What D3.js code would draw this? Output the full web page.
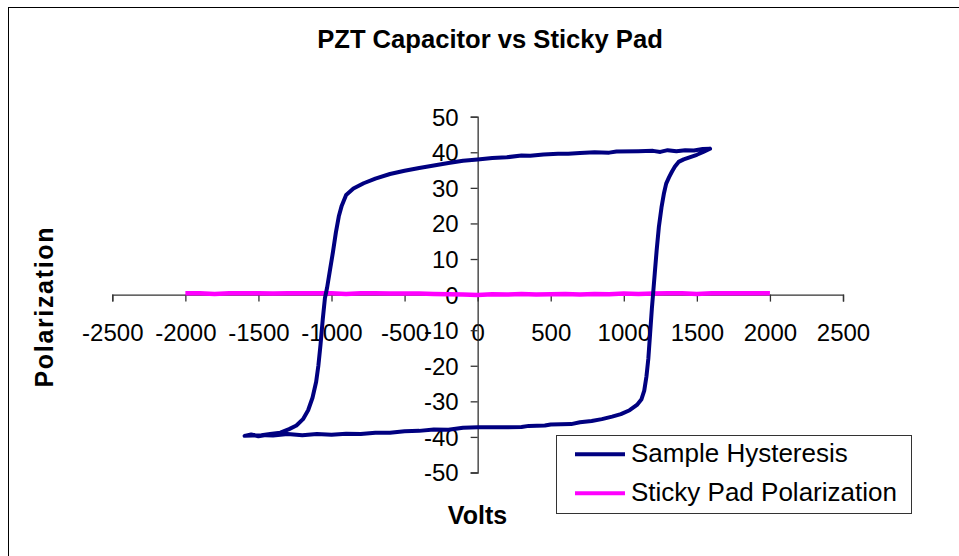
<!DOCTYPE html>
<html>
<head>
<meta charset="utf-8">
<script src="https://cdn.jsdelivr.net/npm/d3@7"></script>
<style>
  body { margin: 0; background: #fff; }
  text { font-family: "Liberation Sans", Arial, sans-serif; fill: #000; }
</style>
</head>
<body>
<div id="chart"></div>
<script>
// hysteresis loop: upper branch (right to left) then lower branch (left to right)
var loopVolts = [
  1590, 1540, 1480, 1420, 1360, 1300, 1250, 1200, 1100, 950, 900, 800, 700, 620, 550, 450, 360, 300, 200, 100,
  0, -100, -200, -300, -400, -500, -600, -700, -780, -850, -900, -930, -950, -970, -990, -1010, -1030, -1045,
  -1060, -1075, -1090, -1105, -1130, -1160, -1195, -1240, -1290, -1350, -1420, -1480, -1540, -1595,
  -1550, -1500, -1450, -1400, -1300, -1200, -1100, -1000, -900, -800, -700, -600, -500, -400, -300, -200, -100,
  0, 100, 200, 300, 350, 460, 500, 640, 700, 780, 850, 920, 980, 1040, 1090, 1120, 1140, 1155, 1168, 1180,
  1192, 1202, 1212, 1225, 1240, 1258, 1275, 1290, 1310, 1330, 1350, 1375, 1410, 1450, 1500, 1540, 1590
];
var loopPol = [
  41.0, 40.9, 40.5, 40.6, 40.3, 40.6, 40.1, 40.4, 40.3, 40.2, 39.9, 40.0, 39.8, 39.6, 39.6, 39.4, 39.0, 39.1, 38.6, 38.4,
  38.0, 37.6, 37.0, 36.3, 35.6, 34.8, 33.9, 32.6, 31.3, 29.8, 28.0, 25.0, 22.0, 17.5, 12.0, 7.0, 2.0, -1.0,
  -7.0, -14.0, -20.0, -24.5, -29.0, -32.5, -35.0, -36.8, -37.8, -38.8, -39.2, -39.5, -39.6, -39.7,
  -39.3, -39.8, -39.5, -39.6, -39.2, -39.5, -39.2, -39.4, -39.1, -39.2, -38.8, -38.8, -38.4, -38.3, -37.9, -38.0, -37.4,
  -37.3, -37.3, -37.3, -37.2, -36.9, -36.8, -36.5, -36.4, -35.9, -35.5, -35.0, -34.3, -33.6, -32.5, -31.0, -29.5, -27.0, -23.0, -18.0, -11.0,
  -4.0, 1.0, 6.0, 12.5, 19.0, 24.5, 28.5, 31.2, 33.0, 34.6, 36.0, 37.3, 38.0, 38.6, 39.3, 40.0, 41.0
];

// sticky pad sweep
var padVolts = [
  -2000, -1900, -1800, -1700, -1600, -1500, -1400, -1300, -1200, -1100, -1000, -900, -800, -700, -600, -500, -400, -300, -200, -100,
  0, 100, 200, 300, 400, 500, 600, 700, 800, 900, 1000, 1100, 1200, 1300, 1400, 1500, 1600, 1700, 1800, 1900, 2000
];
var padPol = [
  0.4, 0.4, 0.2, 0.4, 0.4, 0.4, 0.3, 0.4, 0.4, 0.4, 0.4, 0.2, 0.4, 0.4, 0.3, 0.3, 0.3, 0.2, 0.1, 0.0,
  -0.1, 0.1, 0.0, 0.2, 0.0, 0.1, 0.2, 0.0, 0.2, 0.1, 0.3, 0.2, 0.3, 0.4, 0.4, 0.2, 0.4, 0.4, 0.4, 0.4, 0.4
];

var xTicks = [-2500, -2000, -1500, -1000, -500, 0, 500, 1000, 1500, 2000, 2500];
var yTicks = [-50, -40, -30, -20, -10, 0, 10, 20, 30, 40, 50];

var seriesNames = ['Sample Hysteresis', 'Sticky Pad Polarization'];
var seriesColors = ['#000080', '#ff00ff'];

var width = 959, height = 556;

var svg = d3.select('#chart').append('svg')
  .attr('width', width)
  .attr('height', height);

// chart area border
svg.append('rect')
  .attr('x', 8.5).attr('y', 7.5)
  .attr('width', 1000).attr('height', 600)
  .attr('fill', '#fff')
  .attr('stroke', '#000')
  .attr('stroke-width', 1);

var x = d3.scaleLinear().domain([-2500, 2500]).range([112.3, 843]);
var y = d3.scaleLinear().domain([-50, 50]).range([472.5, 116.7]);

// x axis through y = 0
var xAxis = svg.append('g')
  .attr('transform', 'translate(0,' + y(0) + ')')
  .call(d3.axisBottom(x).tickValues(xTicks).tickSize(7).tickPadding(22).tickFormat(d3.format('d')));

// y axis through x = 0
var yAxis = svg.append('g')
  .attr('transform', 'translate(' + x(0) + ',0)')
  .call(d3.axisLeft(y).tickValues(yTicks).tickSize(7).tickPadding(12).tickFormat(d3.format('d')));

[xAxis, yAxis].forEach(function(ax) {
  ax.select('.domain').attr('stroke', '#333').attr('stroke-width', 1.3);
  ax.selectAll('.tick line').attr('stroke', '#333').attr('stroke-width', 1.3);
  ax.selectAll('.tick text')
    .style('font-family', '"Liberation Sans", Arial, sans-serif')
    .style('font-size', '24px')
    .attr('fill', '#000');
});
xAxis.selectAll('.tick text').attr('dy', null).attr('y', 46).style('dominant-baseline', 'auto');
yAxis.selectAll('.tick text').attr('dy', '0.35em');
// d3 uses a unicode minus; keep a plain hyphen like the original
svg.selectAll('.tick text').text(function(d) { return String(d); });

var line = d3.line()
  .x(function(d) { return x(d[0]); })
  .y(function(d) { return y(d[1]); });

var padData = padVolts.map(function(v, i) { return [v, padPol[i]]; });
var loopData = loopVolts.map(function(v, i) { return [v, loopPol[i]]; });

svg.append('path')
  .datum(padData)
  .attr('d', line)
  .attr('fill', 'none')
  .attr('stroke', seriesColors[1])
  .attr('stroke-width', 4.5)
  .attr('stroke-linejoin', 'round');

svg.append('path')
  .datum(loopData)
  .attr('d', line)
  .attr('fill', 'none')
  .attr('stroke', seriesColors[0])
  .attr('stroke-width', 4)
  .attr('stroke-linejoin', 'round')
  .attr('stroke-linecap', 'round');

// titles
svg.append('text')
  .attr('x', 490).attr('y', 48)
  .attr('text-anchor', 'middle')
  .style('font-size', '25.6px')
  .style('font-weight', 'bold')
  .text('PZT Capacitor vs Sticky Pad');

svg.append('text')
  .attr('x', 477.5).attr('y', 524)
  .attr('text-anchor', 'middle')
  .style('font-size', '25px')
  .style('font-weight', 'bold')
  .text('Volts');

svg.append('text')
  .attr('transform', 'translate(53,307.5) rotate(-90)')
  .attr('text-anchor', 'middle')
  .attr('textLength', 160)
  .attr('lengthAdjust', 'spacing')
  .style('font-size', '25px')
  .style('font-weight', 'bold')
  .text('Polarization');

// legend
var legend = svg.append('g');
legend.append('rect')
  .attr('x', 556.5).attr('y', 435.5)
  .attr('width', 355).attr('height', 78)
  .attr('fill', '#fff')
  .attr('stroke', '#333')
  .attr('stroke-width', 1);

seriesNames.forEach(function(name, i) {
  var ly = 454.3 + i * 39;
  legend.append('line')
    .attr('x1', 575).attr('x2', 625)
    .attr('y1', ly).attr('y2', ly)
    .attr('stroke', seriesColors[i])
    .attr('stroke-width', 4);
  legend.append('text')
    .attr('x', 631).attr('y', ly + 7.5)
    .style('font-size', '26px')
    .text(name);
});
</script>
</body>
</html>
